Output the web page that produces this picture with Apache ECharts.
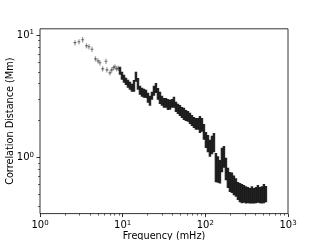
<!DOCTYPE html>
<html><head><meta charset="utf-8">
<script src="https://cdn.jsdelivr.net/npm/echarts@6/dist/echarts.min.js"></script>
<style>html,body{margin:0;padding:0;background:#fff}#c{width:320px;height:240px}</style>
</head><body><div id="c"></div>
<script>
// Low-frequency, individually resolved measurements (mHz, Mm, Mm)
const sparseFreq = [2.65, 2.96, 3.28, 3.65, 3.91, 4.25, 4.69, 5.03, 5.31, 5.73, 6.28, 6.46, 7.02, 7.36, 7.74, 8.07, 8.46, 8.85];
const sparseDist = [8.65, 8.81, 9.15, 8.17, 8.02, 7.65, 6.39, 6.15, 5.93, 5.29, 6.10, 5.19, 4.91, 5.19, 5.40, 5.50, 5.29, 5.35];
const sparseErr  = [0.43, 0.44, 0.46, 0.41, 0.40, 0.38, 0.32, 0.31, 0.30, 0.26, 0.30, 0.26, 0.25, 0.26, 0.27, 0.27, 0.26, 0.27];

// Densely sampled region: centre and half-spread of the point cloud (mHz, Mm, Mm)
const denseFreq = [9.28, 9.81, 10.37, 10.96, 11.59, 12.25, 12.95, 13.70, 14.48, 15.31,
  16.19, 17.12, 18.10, 19.13, 20.23, 21.39, 22.61, 23.91, 25.28, 26.72,
  28.25, 29.87, 31.58, 33.39, 35.30, 37.32, 39.46, 41.72, 44.11, 46.64,
  49.31, 52.12, 55.11, 58.27, 61.60, 65.13, 68.87, 72.80, 76.97, 81.38,
  86.04, 90.97, 96.18, 101.7, 107.5, 113.6, 120.2, 127.1, 134.3, 142.0,
  150.2, 158.8, 167.9, 177.5, 187.7, 198.4, 209.7, 221.7, 234.4, 247.9,
  262.0, 277.1, 292.9, 309.7, 327.4, 346.2, 366.0, 387.0, 409.2, 432.5,
  457.3, 483.5, 511.2, 540.4];
const denseDist = [5.11, 4.65, 4.40, 4.19, 4.00, 3.85, 3.71, 3.86, 4.57, 4.01,
  3.54, 3.41, 3.35, 3.31, 3.08, 2.91, 3.19, 3.51, 3.71, 3.32,
  3.08, 2.91, 2.80, 2.80, 2.72, 2.70, 2.77, 2.83, 2.60, 2.50,
  2.43, 2.34, 2.28, 2.21, 2.17, 2.09, 2.01, 1.94, 1.89, 1.89,
  1.88, 1.86, 1.63, 1.40, 1.31, 1.20, 1.28, 1.34, 0.856, 0.82,
  0.78, 0.975, 1.03, 0.82, 0.69, 0.64, 0.63, 0.60, 0.575, 0.537,
  0.523, 0.513, 0.51, 0.50, 0.497, 0.49, 0.50, 0.49, 0.497, 0.51,
  0.497, 0.50, 0.513, 0.506];
const denseErr = [0.38, 0.35, 0.33, 0.28, 0.30, 0.29, 0.28, 0.43, 0.43, 0.45,
  0.30, 0.29, 0.28, 0.25, 0.29, 0.27, 0.24, 0.33, 0.35, 0.37,
  0.35, 0.27, 0.26, 0.26, 0.28, 0.25, 0.23, 0.29, 0.25, 0.24,
  0.25, 0.24, 0.26, 0.23, 0.22, 0.22, 0.21, 0.20, 0.21, 0.21,
  0.30, 0.24, 0.24, 0.21, 0.21, 0.19, 0.22, 0.24, 0.23, 0.20,
  0.17, 0.22, 0.21, 0.17, 0.13, 0.12, 0.12, 0.11, 0.10, 0.09,
  0.093, 0.091, 0.085, 0.08, 0.075, 0.07, 0.08, 0.07, 0.075, 0.085,
  0.075, 0.08, 0.091, 0.076];

const xMajor = [1, 10, 100, 1000];
const xMinor = [2,3,4,5,6,7,8,9,20,30,40,50,60,70,80,90,200,300,400,500,600,700,800,900];
const yMajor = [1, 10];
const yMinor = [0.4,0.5,0.6,0.7,0.8,0.9,2,3,4,5,6,7,8,9];
const xName = 'Frequency (mHz)';
const yName = 'Correlation Distance (Mm)';
const xRange = [1, 1000];
const yRange = [0.3465, 11.24];

const FONT = 'DejaVu Sans';
const pow10 = v => '{b|10}{s|' + Math.round(Math.log10(v)) + '}';
const rich = {
  b: {fontFamily: FONT, fontSize: 10, color: '#000', lineHeight: 12},
  s: {fontFamily: FONT, fontSize: 7, color: '#000', verticalAlign: 'top', lineHeight: 12}
};
const tickStyle = {color: '#000', width: 0.8};

function majorAxis(range, major, name, extra) {
  return Object.assign({
    type: 'log', logBase: 10, min: range[0], max: range[1],
    name: name, nameLocation: 'middle', nameMoveOverlap: false,
    nameTextStyle: {fontFamily: FONT, fontSize: 9.7, color: '#000'},
    axisLine: {show: false}, splitLine: {show: false},
    axisTick: {show: true, inside: false, length: 3.5, lineStyle: tickStyle, customValues: major},
    axisLabel: {show: true, margin: 6, formatter: pow10, rich: rich, customValues: major,
      showMinLabel: true, showMaxLabel: true}
  }, extra);
}
function minorAxis(range, minor, pos) {
  return {
    type: 'log', logBase: 10, min: range[0], max: range[1], position: pos,
    axisLine: {show: false}, splitLine: {show: false},
    axisTick: {show: true, inside: false, length: 2, lineStyle: {color: '#000', width: 0.6}, customValues: minor},
    axisLabel: {show: false}
  };
}

const chart = echarts.init(document.getElementById('c'), null, {renderer: 'canvas'});
chart.setOption({
  animation: false,
  backgroundColor: '#fff',
  grid: {left: 40, right: 32, top: 28.8, bottom: 26.4, containLabel: false, outerBoundsMode: 'none',
    show: true, borderColor: '#000', borderWidth: 0.8, backgroundColor: 'transparent'},
  xAxis: [
    majorAxis(xRange, xMajor, xName, {position: 'bottom', nameGap: 18}),
    minorAxis(xRange, xMinor, 'bottom')
  ],
  yAxis: [
    majorAxis(yRange, yMajor, yName, {position: 'left', nameGap: 25, nameRotate: 90}),
    minorAxis(yRange, yMinor, 'left')
  ],
  series: [
    {
      type: 'custom', xAxisIndex: 0, yAxisIndex: 0, clip: true,
      data: denseFreq.map((f, i) => [f, denseDist[i], denseErr[i]]),
      renderItem: function (params, api) {
        const f = api.value(0), d = api.value(1), e = api.value(2);
        const t = api.coord([f, d + e]), b = api.coord([f, d - e]);
        return {type: 'rect', shape: {x: t[0] - 1.25, y: t[1], width: 2.5, height: b[1] - t[1]},
          style: {fill: '#000', opacity: 0.85}};
      }
    },
    {
      type: 'custom', xAxisIndex: 0, yAxisIndex: 0, clip: true,
      data: sparseFreq.map((f, i) => [f, sparseDist[i], sparseErr[i]]),
      renderItem: function (params, api) {
        const f = api.value(0), d = api.value(1), e = api.value(2);
        const t = api.coord([f, d + e]), b = api.coord([f, d - e]), c = api.coord([f, d]);
        return {type: 'group', children: [
          {type: 'line', shape: {x1: c[0], y1: t[1], x2: c[0], y2: b[1]}, style: {stroke: 'rgba(0,0,0,0.4)', lineWidth: 1.2}},
          {type: 'rect', shape: {x: c[0] - 1.5, y: c[1] - 0.6, width: 3, height: 1.2}, style: {fill: 'rgba(0,0,0,0.5)'}}
        ]};
      }
    }
  ]
});
</script></body></html>
